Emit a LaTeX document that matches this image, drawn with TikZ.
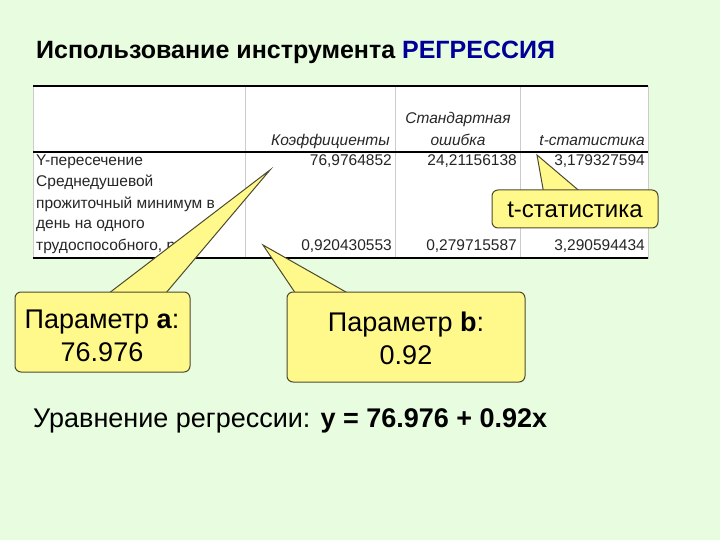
\documentclass[tikz,border=0pt]{standalone}
\usepackage{fontspec}
\setmainfont{Liberation Sans}
\begin{document}
\begin{tikzpicture}[x=1pt,y=-1pt,
  cell/.style={font=\fontsize{15.5}{17}\selectfont,text=black!85,inner sep=0pt},
  hcell/.style={cell,font=\fontsize{15.5}{17}\selectfont\itshape},
  callbox/.style={fill=yellow!45,draw=black!60!olive,line width=1pt,rounded corners=6pt},
  tail/.style={fill=yellow!45,draw=black!60!olive,line width=1pt},
  big/.style={font=\fontsize{27}{31}\selectfont,align=center,inner sep=0pt}]
\definecolor{bg}{HTML}{E8FCE0}
\fill[bg] (0,0) rectangle (720,540);
\useasboundingbox (0,0) rectangle (720,540);
\node[anchor=west,font=\bfseries\fontsize{25}{29}\selectfont,inner sep=0pt] (title) at (36,52) {Использование инструмента \textcolor{blue!60!black}{РЕГРЕССИЯ}};
% table
\fill[white] (33,86) rectangle (648,259);
\foreach \x in {245,395,520,648} \draw[black!20] (\x,86) -- (\x,259);
\draw[black!20] (33,86) -- (33,259);
\draw[line width=1.8pt] (33,86) -- (648,86);
\draw[line width=1.2pt] (33,152) -- (648,152);
\draw[line width=1.2pt] (33,258) -- (648,258);
\node[hcell,anchor=base east] (h1) at (390,146) {Коэффициенты};
\node[hcell,anchor=base] (h2a) at (458,124) {Стандартная};
\node[hcell,anchor=base] (h2b) at (458,146) {ошибка};
\node[hcell,anchor=base east] (h3) at (645,146) {t-статистика};
\node[cell,anchor=base west] (r1) at (36,166) {Y-пересечение};
\node[cell,anchor=base east] (r1a) at (392,166) {76,9764852};
\node[cell,anchor=base east] (r1b) at (517,166) {24,21156138};
\node[cell,anchor=base east] (r1c) at (645,166) {3,179327594};
\node[cell,anchor=base west] (r2a) at (36,187) {Среднедушевой};
\node[cell,anchor=base west] (r2b) at (36,208) {прожиточный минимум в};
\node[cell,anchor=base west] (r2c) at (36,229) {день на одного};
\node[cell,anchor=base west] (r2d) at (36,250) {трудоспособного, руб};
\node[cell,anchor=base east] (r2e) at (392,250) {0,920430553};
\node[cell,anchor=base east] (r2f) at (517,250) {0,279715587};
\node[cell,anchor=base east] (r2g) at (645,250) {3,290594434};
% callout t
\coordinate (tt) at (537,155);
\filldraw[tail] (tt) -- (545,200) -- (590,200) -- cycle;
\filldraw[callbox] (492,190) rectangle (658,228);
\node[big,font=\fontsize{24}{28}\selectfont] (tl) at (575,210) {t-статистика};
% callout a
\coordinate (ta) at (270,170);
\filldraw[tail] (ta) -- (100,300) -- (160,300) -- cycle;
\filldraw[callbox] (15,292) rectangle (190,372);
\node[big] (al) at (102,336) {Параметр \textbf{а}:\\[2pt]76.976};
% callout b
\coordinate (tb) at (263,245);
\filldraw[tail] (tb) -- (300,300) -- (360,300) -- cycle;
\filldraw[callbox] (287,292) rectangle (525,382);
\node[big] (bl) at (406,338) {Параметр \textbf{b}:\\[2pt]0.92};
\node[anchor=west,font=\fontsize{27}{31}\selectfont,inner sep=0pt] (eq) at (33,421) {Уравнение регрессии: \textbf{y = 76.976 + 0.92x}};
\end{tikzpicture}
\end{document}
